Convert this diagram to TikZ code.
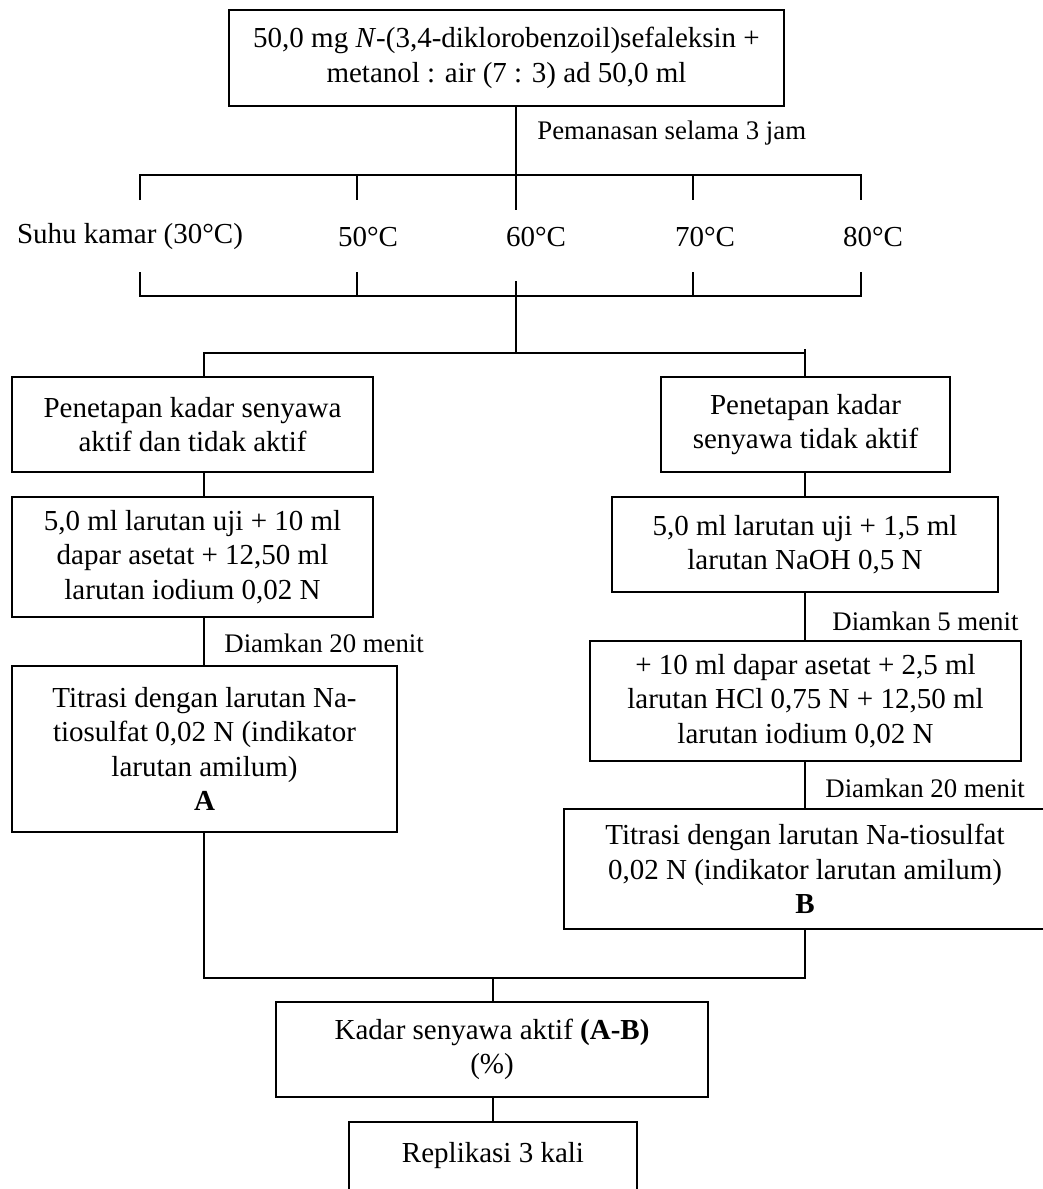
\documentclass[tikz,border=0pt]{standalone}
\usepackage{fontspec}
\setmainfont{Liberation Serif}
\usetikzlibrary{positioning}
\newcommand{\hurufbagan}{\fontsize{14.5}{17.25}\selectfont}
\newcommand{\hurufket}{\fontsize{13.4}{17.25}\selectfont}

\begin{document}
\begin{tikzpicture}[x=0.5pt, y=-0.5pt,
        box/.style={rectangle, draw=black, line width=1pt, align=center, inner sep=0pt, font=\hurufbagan},
        suhu/.style={inner sep=0pt, font=\hurufbagan},
        lab/.style={inner sep=0pt, font=\hurufket},
        garis/.style={draw=black, line width=1pt}
    ]
    \path[use as bounding box, fill=white] (0,0) rectangle (1043,1189);

    % Sampel awal dan pemanasan
    \node (awal) [box, minimum width=277.5pt, minimum height=48pt] at (506.5,58) {50,0 mg \textit{N}-(3,4-diklorobenzoil)sefaleksin +\\ metanol : air (7 : 3) ad 50,0 ml};
    \node (panas) [lab, anchor=west] at (537,133) {Pemanasan selama 3 jam};

    % Lima suhu pemanasan
    \coordinate (tA) at (516,175);
    \coordinate (tB) at (516,296);
    \node (s30) [suhu] at (130,237) {Suhu kamar (30°C)};
    \node (s50) [suhu] at (368,237) {50°C};
    \node (s60) [suhu] at (536,237) {60°C};
    \node (s70) [suhu] at (705,237) {70°C};
    \node (s80) [suhu] at (873,237) {80°C};

    % Kolom kiri dan kanan
    \coordinate (kolkiri) at (204,353);
    \coordinate (kolkanan) at (805,353);
    \node (kiri1)  [box, minimum width=180.5pt, minimum height=47.5pt] at (192.5,424.5) {Penetapan kadar senyawa\\ aktif dan tidak aktif};
    \node (kanan1) [box, minimum width=144.5pt, minimum height=47.5pt] at (805.5,424.5) {Penetapan kadar\\ senyawa tidak aktif};
    \node (kiri2)  [box, minimum width=180.5pt, minimum height=60pt] at (192.5,557) {5,0 ml larutan uji + 10 ml\\ dapar asetat + 12,50 ml\\ larutan iodium 0,02 N};
    \node (kanan2) [box, minimum width=193pt, minimum height=47.5pt] at (805,544.5) {5,0 ml larutan uji + 1,5 ml\\ larutan NaOH 0,5 N};
    \node (kiri3)  [box, minimum width=192.5pt, minimum height=83pt] at (204.5,749) {Titrasi dengan larutan Na-\\ tiosulfat 0,02 N (indikator\\ larutan amilum)\\ \textbf{A}};
    \node (kanan3) [box, minimum width=215.5pt, minimum height=60pt] at (805.5,701) {+ 10 ml dapar asetat + 2,5 ml\\ larutan HCl 0,75 N + 12,50 ml\\ larutan iodium 0,02 N};
    \node (kanan4) [box, minimum width=241pt, minimum height=60pt] at (805,869) {Titrasi dengan larutan Na-tiosulfat\\ 0,02 N (indikator larutan amilum)\\ \textbf{B}};
    \node (diam1) [lab, anchor=west] at (224,643) {Diamkan 20 menit};
    \node (diam2) [lab, anchor=west] at (832,621) {Diamkan 5 menit};
    \node (diam3) [lab, anchor=west] at (825,788) {Diamkan 20 menit};

    % Hasil akhir
    \coordinate (gabung) at (493,978);
    \node (kadar) [box, minimum width=216pt, minimum height=47.5pt] at (492,1049.5) {Kadar senyawa aktif \textbf{(A-B)}\\ (\%)};
    \node (ulang) [box, minimum width=144pt, inner ysep=10pt, text depth=25pt, anchor=north] at (493,1121) {Replikasi 3 kali};

    % Garis penghubung
    \draw [garis] (awal.south -| tA) -- (516,210);
    \draw [garis] (140,200) -- (140,175) -- (861,175) -- (861,200);
    \foreach \x in {357,693} \draw [garis] (\x,175) -- (\x,200);
    \draw [garis] (140,272) -- (140,296) -- (861,296) -- (861,272);
    \foreach \x in {357,693} \draw [garis] (\x,296) -- (\x,272);
    \draw [garis] (516,281) -- (kolkiri -| tB);
    \draw [garis] (kiri1.north -| kolkiri) -- (kolkiri) -- (kolkanan) -- (805,349);
    \draw [garis] (kolkanan) -- (kanan1.north -| kolkanan);
    \draw [garis] (kiri1.south -| kolkiri) -- (kiri2.north -| kolkiri);
    \draw [garis] (kiri2.south -| kolkiri) -- (kiri3.north -| kolkiri);
    \draw [garis] (kanan1.south -| kolkanan) -- (kanan2.north -| kolkanan);
    \draw [garis] (kanan2.south -| kolkanan) -- (kanan3.north -| kolkanan);
    \draw [garis] (kanan3.south -| kolkanan) -- (kanan4.north -| kolkanan);
    \draw [garis] (kiri3.south -| kolkiri) -- (gabung -| kolkiri) -- (gabung -| kolkanan) -- (kanan4.south -| kolkanan);
    \draw [garis] (gabung) -- (kadar.north -| gabung);
    \draw [garis] (kadar.south -| gabung) -- (ulang.north -| gabung);

\end{tikzpicture}
\end{document}
